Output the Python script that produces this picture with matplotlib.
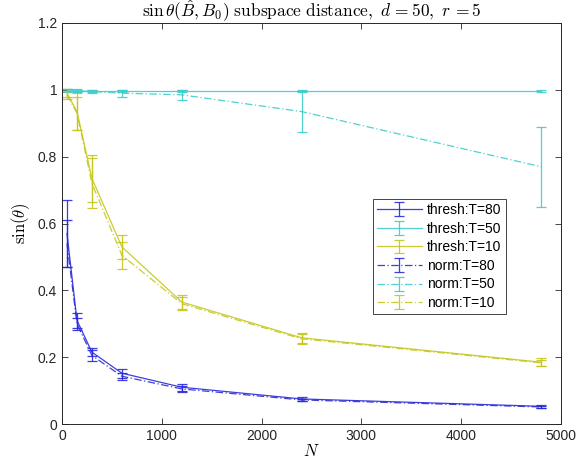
import matplotlib
matplotlib.use("Agg")
import matplotlib.pyplot as plt
import numpy as np

plt.rcParams['font.family'] = ['Liberation Sans', 'DejaVu Sans']
plt.rcParams['mathtext.fontset'] = 'cm'

N = [50, 150, 300, 600, 1200, 2400, 4800]

thresh_T80 = [0.57, 0.31, 0.215, 0.152, 0.110, 0.075, 0.053]
thresh_T80_err = [0.10, 0.022, 0.012, 0.013, 0.010, 0.005, 0.004]
thresh_T50 = [0.997, 0.997, 0.997, 0.997, 0.997, 0.997, 0.997]
thresh_T50_err = [0.004, 0.003, 0.003, 0.003, 0.003, 0.002, 0.002]
thresh_T10 = [0.99, 0.935, 0.735, 0.53, 0.365, 0.258, 0.185]
thresh_T10_err = [0.012, 0.055, 0.07, 0.035, 0.02, 0.015, 0.012]
norm_T80 = [0.54, 0.30, 0.205, 0.143, 0.105, 0.072, 0.051]
norm_T80_err = [0.07, 0.018, 0.015, 0.01, 0.008, 0.004, 0.003]
norm_T50 = [1.0, 0.997, 0.995, 0.99, 0.985, 0.935, 0.77]
norm_T50_err = [0.003, 0.004, 0.005, 0.01, 0.015, 0.062, 0.12]
norm_T10 = [0.985, 0.93, 0.72, 0.505, 0.36, 0.255, 0.183]
norm_T10_err = [0.012, 0.05, 0.075, 0.04, 0.02, 0.015, 0.01]

labels = ['thresh:T=80', 'thresh:T=50', 'thresh:T=10', 'norm:T=80', 'norm:T=50', 'norm:T=10']
blue = '#2a2ad8'
cyan = '#3ccccc'
yellow = '#c6c61c'

fig = plt.figure(figsize=(5.81, 4.68), dpi=100)
ax = fig.add_axes([62/581, 44/468, 499/581, 401/468])

series = [
    (thresh_T80, thresh_T80_err, blue, '-'),
    (thresh_T50, thresh_T50_err, cyan, '-'),
    (thresh_T10, thresh_T10_err, yellow, '-'),
    (norm_T80, norm_T80_err, blue, (0, (6, 2, 1, 2))),
    (norm_T50, norm_T50_err, cyan, (0, (6, 2, 1, 2))),
    (norm_T10, norm_T10_err, yellow, (0, (6, 2, 1, 2))),
]
for (y, e, c, ls), lab in zip(series, labels):
    ax.errorbar(N, y, yerr=e, color=c, linestyle=ls, linewidth=0.9,
                elinewidth=0.9, capsize=3.5, capthick=0.9, label=lab, alpha=0.9)

ax.set_xlim(0, 5000)
ax.set_ylim(0, 1.2)
ax.set_xticks([0, 1000, 2000, 3000, 4000, 5000])
ax.set_yticks([0, 0.2, 0.4, 0.6, 0.8, 1.0, 1.2])
ax.set_yticklabels(['0', '0.2', '0.4', '0.6', '0.8', '1', '1.2'])
ax.tick_params(direction='in', length=4, labelsize=10, colors='#262626', width=0.6,
               top=True, right=True)
for s in ax.spines.values():
    s.set_color('#262626')
    s.set_linewidth(0.7)

ax.set_title(r'$\sin\theta(\hat{B},B_0)\ \mathrm{subspace\ distance,}\ d\,\mathrm{=50,}\ r\,\mathrm{=5}$',
             fontsize=12.5, pad=4)
ax.set_xlabel(r'$N$', fontsize=12, labelpad=0)
ax.set_ylabel(r'$\sin(\theta)$', fontsize=12, labelpad=4)

leg = ax.legend(loc='upper left', bbox_to_anchor=((373 - 62) / 499, (424 - 199) / 401),
                fontsize=10, handlelength=3.2, borderpad=0.3, labelspacing=0.33,
                handletextpad=0.4, borderaxespad=0, fancybox=False, framealpha=1)
leg.get_frame().set_edgecolor('#262626')
leg.get_frame().set_linewidth(0.6)

fig.savefig('out.png', dpi=100)
